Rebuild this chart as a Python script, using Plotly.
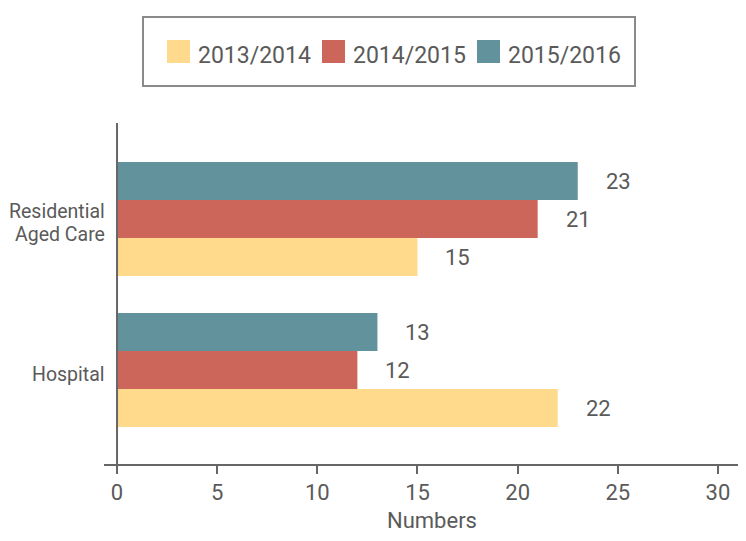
import plotly.graph_objects as go

# ---- data ----
categories = ["Hospital", "Residential<br>Aged Care"]
series_names = ["2013/2014", "2014/2015", "2015/2016"]
values_2013_2014 = [22, 15]
values_2014_2015 = [12, 21]
values_2015_2016 = [13, 23]
series_values = [values_2013_2014, values_2014_2015, values_2015_2016]
series_colors = ["#FFDA8C", "#CC665A", "#62939C"]
x_ticks = [0, 5, 10, 15, 20, 25, 30]
x_title = "Numbers"

OFF = 8  # page body margin
W, H = 738, 533
# plot area in screen pixels: x 104..745, y 123..464
ML = 104 - OFF
MT = 123 - OFF
MR = W - (745 - OFF)
MB = H - (464 - OFF)
PW, PH = W - ML - MR, H - MT - MB

def px_x(p):
    return (p - OFF - ML) / PW

def px_y(p):
    return (H - MB - (p - OFF)) / PH

TXT = "#5a5a5a"
AX = "#666666"
FONT = "Roboto"
BARGAP = 0.245

fig = go.Figure()
for name, vals, col in zip(series_names, series_values, series_colors):
    fig.add_trace(go.Bar(
        y=categories, x=vals, name=name, orientation="h",
        marker=dict(color=col, line=dict(width=0)),
        showlegend=False, hoverinfo="x+name",
    ))

annotations = []

# value labels
bw = (1 - BARGAP) / len(series_names)
for i, vals in enumerate(series_values):
    off = (i - (len(series_names) - 1) / 2) * bw
    for ci, v in enumerate(vals):
        annotations.append(dict(
            x=v, y=ci + off, xref="x", yref="y", text=str(v),
            showarrow=False, xanchor="left", yanchor="middle", xshift=26,
            font=dict(family=FONT, size=22, color=TXT),
        ))

# category labels (tight line spacing)
LINE_PITCH = 23
for ci, cat in enumerate(categories):
    lines = cat.split("<br>")
    n = len(lines)
    for k, line in enumerate(lines):
        dy = (k - (n - 1) / 2) * LINE_PITCH + 4
        annotations.append(dict(
            x=px_x(107), y=ci, xref="paper", yref="y", text=line,
            showarrow=False, xanchor="right", yanchor="middle", yshift=-dy,
            font=dict(family=FONT, size=19.5, color=TXT),
        ))

# axis title
annotations.append(dict(
    x=px_x(432), y=px_y(520), xref="paper", yref="paper", text=x_title,
    showarrow=False, xanchor="center", yanchor="middle",
    font=dict(family=FONT, size=22, color=TXT),
))

shapes = []
# y axis line at x=0
shapes.append(dict(type="line", xref="x", yref="paper", x0=0, x1=0, y0=0, y1=1,
                   line=dict(color=AX, width=2)))
# custom legend box
shapes.append(dict(type="rect", xref="paper", yref="paper",
                   x0=px_x(143), x1=px_x(635), y0=px_y(86), y1=px_y(17),
                   line=dict(color="#8a8a8a", width=2), fillcolor="rgba(0,0,0,0)"))
sw_x = [167, 322, 477]
for sx, name, col in zip(sw_x, series_names, series_colors):
    shapes.append(dict(type="rect", xref="paper", yref="paper",
                       x0=px_x(sx), x1=px_x(sx + 23), y0=px_y(63), y1=px_y(40),
                       line=dict(width=0), fillcolor=col))
    annotations.append(dict(
        x=px_x(sx + 29), y=px_y(55.5), xref="paper", yref="paper", text=name,
        showarrow=False, xanchor="left", yanchor="middle",
        font=dict(family=FONT, size=23, color=TXT),
    ))

fig.update_layout(
    width=W, height=H,
    margin=dict(l=ML, r=MR, t=MT, b=MB, pad=0),
    paper_bgcolor="white", plot_bgcolor="white",
    barmode="group", bargap=BARGAP, bargroupgap=0,
    showlegend=False,
    font=dict(family=FONT, color=TXT),
    xaxis=dict(
        range=[-0.65, 31.35], tickvals=x_ticks, showgrid=False, zeroline=False,
        showline=True, linecolor=AX, linewidth=2,
        ticks="outside", ticklen=8, tickwidth=2, tickcolor=AX,
        tickfont=dict(family=FONT, size=22, color=TXT),
    ),
    yaxis=dict(
        type="category", range=[-0.6225, 1.636], showgrid=False, zeroline=False,
        showline=False, ticks="", showticklabels=False,
    ),
    annotations=annotations,
    shapes=shapes,
)

fig.write_html("out.html")
